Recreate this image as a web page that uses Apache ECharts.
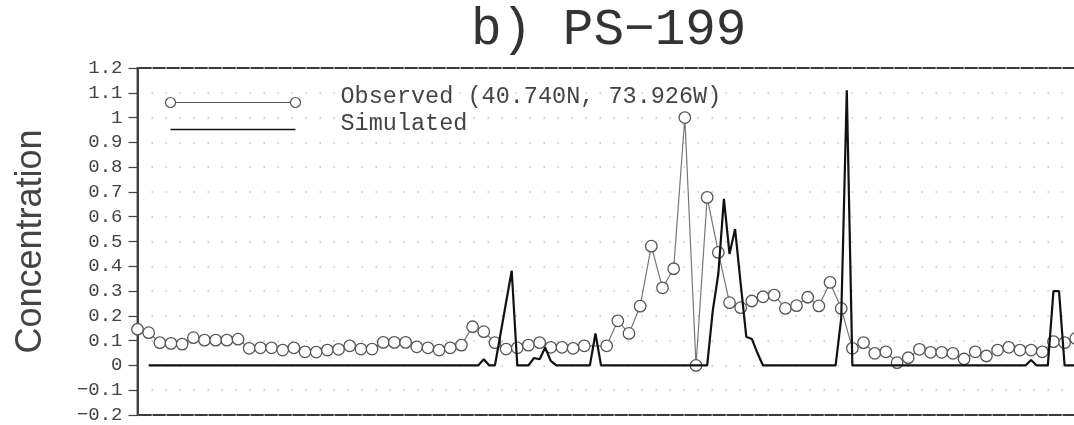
<!DOCTYPE html>
<html>
<head>
<meta charset="utf-8">
<script src="https://cdn.jsdelivr.net/npm/echarts@6/dist/echarts.min.js"></script>
<style>
html,body{margin:0;padding:0;background:#fff;}
#chart{width:1074px;height:425px;}
</style>
</head>
<body>
<div id="chart"></div>
<script>
// ---- data ----
const titleText = 'b) PS\u2212199';
const yAxisName = 'Concentration';
const observedName = 'Observed (40.740N, 73.926W)';
const simulatedName = 'Simulated';
const yTicks = { min: -0.2, max: 1.2, step: 0.1 };

// observed: one value per time step (t = 0, 1, 2, ...), null = missing
const observedValues = [
  0.146, 0.132, 0.092, 0.089, 0.086, 0.112, 0.102, 0.102, 0.102, 0.106,
  0.069, 0.071, 0.071, 0.062, 0.071, 0.055, 0.054, 0.062, 0.065, 0.079,
  0.066, 0.066, 0.093, 0.093, 0.093, 0.075, 0.071, 0.062, 0.071, 0.082,
  0.156, 0.136, 0.092, 0.066, 0.071, 0.082, 0.092, 0.073, 0.073, 0.069,
  0.079, null,  0.079, 0.180, 0.129, 0.239, 0.481, 0.313, 0.390, 1.000,
  0.000, 0.678, 0.456, 0.253, 0.233, 0.260, 0.277, 0.284, 0.230, 0.241,
  0.275, 0.240, 0.335, 0.230, 0.069, 0.092, 0.049, 0.055, 0.011, 0.031,
  0.065, 0.053, 0.053, 0.049, 0.026, 0.055, 0.038, 0.062, 0.073, 0.062,
  0.062, 0.055, 0.096, 0.092, 0.109
];

// simulated: half-step resolution, starting at t = 1.0
const simulatedStart = 1.0;
const simulatedStep = 0.5;
const simulatedValues = [
  // t = 1.0 - 30.0
  0,0,0,0,0,0,0,0,0,0,
  0,0,0,0,0,0,0,0,0,0,
  0,0,0,0,0,0,0,0,0,0,
  0,0,0,0,0,0,0,0,0,0,
  0,0,0,0,0,0,0,0,0,0,
  0,0,0,0,0,0,0,0,0,
  // t = 30.5 - 37.5
  0,0.025,0,0,0.127,0.255,0.382,0,0,0,0.03,0.025,0.072,0.018,0,
  // t = 38.0 - 40.5
  0,0,0,0,0,0,
  // t = 41.0 - 41.5
  0.129,0,
  // t = 42.0 - 51.0
  0,0,0,0,0,0,0,0,0,0,
  0,0,0,0,0,0,0,0,0,
  // t = 51.5 - 55.5
  0.22,0.37,0.672,0.45,0.55,0.33,0.116,0.107,0.05,
  // t = 56.0 - 62.5
  0,0,0,0,0,0,0,0,0,0,0,0,0,0,
  // t = 63.0 - 63.5
  0.19,1.11,
  // t = 64.0 - 79.5
  0,0,0,0,0,0,0,0,0,0,
  0,0,0,0,0,0,0,0,0,0,
  0,0,0,0,0,0,0,0,0,0,
  0,0,
  // t = 80.0
  0.022,
  // t = 80.5 - 81.5
  0,0,0,
  // t = 82.0 - 82.5
  0.30,0.30,
  // t = 83.0 - 85.0
  0,0,0,0,0
];

// ---- chart ----
const FONT = "'Liberation Mono', 'DejaVu Sans Mono', monospace";
const NAME_FONT = "'Liberation Sans', Arial, sans-serif";
const observedData = observedValues.map((v, i) => [i, v]);
const simulatedData = simulatedValues.map((v, k) => [simulatedStart + k * simulatedStep, v]);

const obsIcon = 'path://M0 0M0 12M0 6A5 5 0 1 1 10 6A5 5 0 1 1 0 6ZM10 6L125 6M125 6A5 5 0 1 1 135 6A5 5 0 1 1 125 6Z';
const simIcon = 'path://M0 0M0 12M5 6L130 6M135 6';

const legendText = {
  fontFamily: FONT, fontSize: 23.5, color: '#444',
  rich: { t: { fontFamily: FONT, fontSize: 23.5, color: '#444', padding: [0, 0, 11, 35] } }
};

const chart = echarts.init(document.getElementById('chart'), null, { renderer: 'canvas' });
chart.setOption({
  animation: false,
  backgroundColor: '#fff',
  title: {
    text: titleText,
    left: 466,
    top: 0,
    textStyle: { fontFamily: FONT, fontSize: 51, fontWeight: 'normal', color: '#333' }
  },
  legend: [
    {
      left: 158, top: 80, itemWidth: 135, itemHeight: 12, itemGap: 0, selectedMode: false,
      formatter: n => '{t|' + n + '}',
      textStyle: legendText,
      data: [{ name: observedName, icon: obsIcon,
        itemStyle: { color: 'none', borderColor: '#555', borderWidth: 1.2 } }]
    },
    {
      left: 158, top: 107, itemWidth: 135, itemHeight: 12, itemGap: 0, selectedMode: false,
      formatter: n => '{t|' + n + '}',
      textStyle: legendText,
      data: [{ name: simulatedName, icon: simIcon,
        itemStyle: { color: 'none', borderColor: '#111', borderWidth: 1.5 } }]
    }
  ],
  grid: {
    left: 137.5, top: 68, height: 347, width: 1005.3,
    show: true, borderColor: '#3a3a3a', borderWidth: 1.8, backgroundColor: 'transparent',
    containLabel: false, outerBoundsMode: 'none'
  },
  xAxis: {
    type: 'value', min: 0, max: 90,
    axisLine: { show: false }, axisTick: { show: false },
    axisLabel: { show: false }, splitLine: { show: false }
  },
  yAxis: {
    type: 'value', min: yTicks.min, max: yTicks.max, interval: yTicks.step,
    name: yAxisName, nameLocation: 'middle', nameGap: 88,
    nameTextStyle: { fontFamily: NAME_FONT, fontSize: 36, color: '#444' },
    axisLine: { show: true, lineStyle: { color: '#3a3a3a', width: 1.8 } },
    axisTick: { show: true, length: 9, lineStyle: { color: '#444', width: 1.2 } },
    axisLabel: {
      margin: 15, fontFamily: FONT, fontSize: 19, color: '#444',
      formatter: v => String(Math.round(v * 10) / 10).replace('-', '\u2212')
    },
    splitLine: { show: true, lineStyle: { color: '#c8c8c8', width: 1.5, type: [1.5, 12.5] } }
  },
  series: [
    {
      name: observedName, type: 'line', data: observedData,
      symbol: 'circle', symbolSize: 11.5, showSymbol: true, showAllSymbol: true,
      connectNulls: true, z: 2,
      lineStyle: { color: '#777', width: 1.2 },
      itemStyle: { color: '#fff', borderColor: '#555', borderWidth: 1.3 },
      emphasis: { disabled: true }
    },
    {
      name: simulatedName, type: 'line', data: simulatedData,
      symbol: 'none', z: 3,
      lineStyle: { color: '#111', width: 2.2 },
      itemStyle: { color: '#111' },
      emphasis: { disabled: true }
    }
  ]
});
</script>
</body>
</html>
